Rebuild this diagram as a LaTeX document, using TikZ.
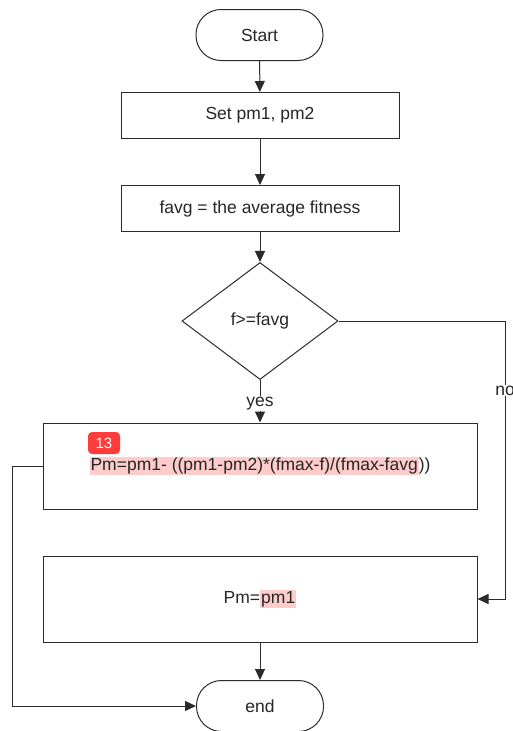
\documentclass[tikz,border=0pt]{standalone}
\usepackage{fontspec}
\setmainfont{Liberation Sans}
\usetikzlibrary{arrows.meta,shapes.geometric}
\definecolor{hlpink}{HTML}{FFCCCC}
\definecolor{badgered}{HTML}{FF3B3B}
\definecolor{ink}{HTML}{2B2B2B}
\setlength{\fboxsep}{1pt}
\begin{document}
\begin{tikzpicture}[x=1pt,y=-1pt,
  font=\fontsize{17.5}{20}\selectfont,
  line width=1pt,
  flow/.style={draw=ink,-{Triangle[width=10pt,length=11pt]}},
  terminal/.style={draw=ink,text=black!85,rounded corners=25pt,minimum width=127pt,minimum height=51pt},
  stepbox/.style={draw=ink,text=black!85,minimum width=278pt,minimum height=46pt},
  bigbox/.style={draw=ink,text=black!85,minimum width=434pt,minimum height=86pt},
  decision/.style={draw=ink,text=black!85,diamond,aspect=1.33,minimum width=156pt,minimum height=117pt,inner sep=0pt},
  badge/.style={fill=badgered,text=white,rounded corners=4pt,minimum width=32pt,minimum height=22pt,inner sep=0pt,font=\fontsize{15}{15}\selectfont},
  tag/.style={fill=white,inner sep=1pt,text=black!85}]
\useasboundingbox (0,0) rectangle (513,731);
\node[terminal] (start) at (259.5,35) {Start};
\node[stepbox] (setpm) at (260,115.5) {Set pm1, pm2};
\node[stepbox] (favg) at (260,208.5) {favg = the average fitness};
\node[decision] (cond) at (260,321) {f>=favg};
\node[bigbox] (pmcalc) at (260,466) {\colorbox{hlpink}{Pm=pm1- ((pm1-pm2)*(fmax-f)/(fmax-favg}))};
\node[badge] (step13) at (104,443) {13};
\node[bigbox] (pmset) at (260,599) {Pm=\colorbox{hlpink}{pm1}};
\node[terminal] (finish) at (260,706) {end};
\coordinate (noturn) at (505,321);
\coordinate (nodown) at (505,599);
\coordinate (yesout) at (12,466);
\coordinate (yesdown) at (12,706);
\draw[flow] (start) -- (setpm);
\draw[flow] (setpm) -- (favg);
\draw[flow] (favg) -- (cond);
\draw[flow] (cond) -- node[tag,pos=0.55] {yes} (pmcalc);
\draw[flow] (cond.east) -- (noturn) -- node[tag,pos=0.25] {no} (nodown) -- (pmset.east);
\draw[flow] (pmcalc.west) -- (yesout) -- (yesdown) -- (finish.west);
\draw[flow] (pmset) -- (finish);
\end{tikzpicture}
\end{document}
